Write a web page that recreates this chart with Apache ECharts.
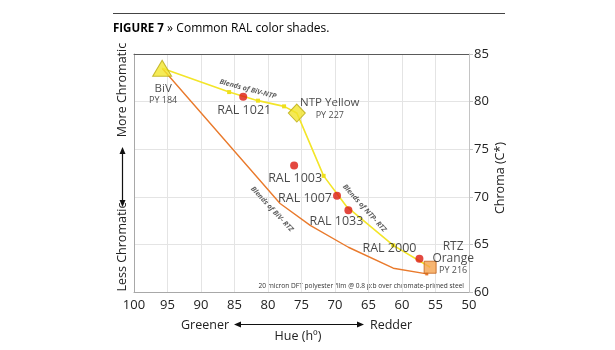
<!DOCTYPE html>
<html>
<head>
<meta charset="utf-8">
<script src="https://cdn.jsdelivr.net/npm/echarts@6/dist/echarts.min.js"></script>
<style>
  html, body { margin: 0; padding: 0; background: #fff; }
  #chart { width: 615px; height: 350px; }
</style>
</head>
<body>
<div id="chart"></div>
<script>
// Hue (h°) and chroma (C*) of pigments, blends and RAL shades
const xTicks = [100, 95, 90, 85, 80, 75, 70, 65, 60, 55, 50];
const yTicks = [60, 65, 70, 75, 80, 85];

// Blend curve BiV -> NTP -> RTZ  [hue, chroma, hasMarker]
const ntpBlendPath = [
  [95.8, 83.5, 0], [85.8, 81.0, 1], [81.5, 80.1, 1], [77.6, 79.5, 1],
  [75.7, 78.8, 0], [75.2, 78.0, 0], [71.7, 72.2, 1], [68.3, 69.0, 0],
  [61.3, 64.9, 1], [55.8, 62.6, 0]
];
// Blend curve BiV -> RTZ
const rtzBlendPath = [
  [95.8, 83.5], [78.2, 69.3], [73.7, 67.0], [68.0, 64.7], [61.3, 62.5], [56.3, 61.9]
];

// Base pigments
const bivPigment = [95.8, 83.5];
const ntpPigment = [75.7, 78.8];
const rtzPigment = [55.8, 62.6];

// RAL shades
const ralNames = ['RAL 1021', 'RAL 1003', 'RAL 1007', 'RAL 1033', 'RAL 2000'];
const ralHue = [83.7, 76.1, 69.7, 68.0, 57.4];
const ralChroma = [80.5, 73.3, 70.1, 68.6, 63.5];

// Blend captions along the curves
const blendCaptions = ['Blends of BiV-NTP', 'Blends of BiV- RTZ', 'Blends of NTP- RTZ'];
const captionHue = [83.0, 79.4, 65.6];
const captionChroma = [81.3, 68.7, 68.8];
const captionAngle = [-15, -47, -48];

const FONT = '"Open Sans", "Noto Sans", sans-serif';
const chart = echarts.init(document.getElementById('chart'), null, { renderer: 'canvas' });

const ralLabelLayout = [
  { position: 'bottom', distance: 3, offset: [1, 0] },
  { position: 'bottom', distance: 3, offset: [1, 0] },
  { position: 'left', distance: 1, offset: [0, 3] },
  { position: 'bottom', distance: 1, offset: [-12, 0] },
  { position: 'left', distance: 0, offset: [1, -10] }
];

const option = {
  animation: false,
  textStyle: { fontFamily: FONT },
  grid: { left: 134, right: 146, top: 54, bottom: 58 },
  xAxis: [{
    type: 'value', inverse: true, min: 50, max: 100, interval: 5,
    position: 'bottom',
    axisLine: { show: true, lineStyle: { color: '#a8a8a8', width: 1 } },
    axisTick: { show: false },
    axisLabel: { color: '#222', fontSize: 13, margin: 7, fontFamily: FONT,
      formatter: v => xTicks.includes(v) ? String(v) : '' },
    splitLine: { show: true, lineStyle: { color: '#e4e4e4', width: 1 } }
  }, {
    type: 'value', inverse: true, min: 50, max: 100, interval: 5,
    position: 'top',
    axisLine: { show: true, lineStyle: { color: '#5a5a5a', width: 1 } },
    axisTick: { show: false }, axisLabel: { show: false }, splitLine: { show: false }
  }],
  yAxis: [{
    type: 'value', min: 60, max: 85, interval: 5, position: 'right',
    axisLine: { show: true, lineStyle: { color: '#c4c4c4', width: 1 } },
    axisTick: { show: true, length: 4, lineStyle: { color: '#c4c4c4' } },
    axisLabel: { color: '#222', fontSize: 13, margin: 5, fontFamily: FONT,
      formatter: v => yTicks.includes(v) ? String(v) : '' },
    splitLine: { show: true, lineStyle: { color: '#e4e4e4', width: 1 } }
  }, {
    type: 'value', min: 60, max: 85, interval: 5, position: 'left',
    axisLine: { show: true, lineStyle: { color: '#a8a8a8', width: 1 } },
    axisTick: { show: false }, axisLabel: { show: false }, splitLine: { show: false }
  }],
  series: [
    {
      name: 'BiV-RTZ blends', type: 'line', xAxisIndex: 0, yAxisIndex: 0,
      data: rtzBlendPath.map((p, i) => ({
        value: p,
        symbol: i === rtzBlendPath.length - 1 ? 'rect' : 'none',
        symbolSize: 3
      })),
      lineStyle: { color: '#e97a2c', width: 1.4 },
      itemStyle: { color: '#e97a2c' }, z: 2
    },
    {
      name: 'BiV-NTP-RTZ blends', type: 'line', xAxisIndex: 0, yAxisIndex: 0,
      data: ntpBlendPath.map(p => ({
        value: [p[0], p[1]],
        symbol: p[2] ? 'rect' : 'none',
        symbolSize: 4
      })),
      lineStyle: { color: '#f3e529', width: 1.6 },
      itemStyle: { color: '#efe01c' }, z: 3
    },
    {
      name: 'Blend captions', type: 'scatter', xAxisIndex: 0, yAxisIndex: 0,
      symbolSize: 0, silent: true, z: 4,
      data: blendCaptions.map((t, i) => ({
        value: [captionHue[i], captionChroma[i]],
        label: { show: true, position: 'inside', formatter: t, rotate: captionAngle[i],
          fontSize: 7, fontStyle: 'italic', fontWeight: 'bold', color: '#333', fontFamily: FONT }
      }))
    },
    {
      name: 'RAL', type: 'scatter', xAxisIndex: 0, yAxisIndex: 0,
      symbol: 'circle', symbolSize: 8, z: 5,
      itemStyle: { color: '#dc1a10' },
      data: ralNames.map((n, i) => ({
        value: [ralHue[i], ralChroma[i]],
        label: Object.assign({ show: true, formatter: n, fontSize: 12.5, color: '#1a1a1a',
          fontFamily: FONT }, ralLabelLayout[i])
      }))
    },
    {
      name: 'BiV', type: 'scatter', xAxisIndex: 0, yAxisIndex: 0,
      symbol: 'triangle', symbolSize: [19, 16], z: 6,
      itemStyle: { color: '#f2e62c', borderColor: '#b9aa10', borderWidth: 1 },
      data: [{ value: bivPigment }],
      label: { show: true, position: 'inside', offset: [1, 26],
        formatter: '{a|BiV}\n{b|PY 184}', align: 'center', color: '#222',
        rich: { a: { fontSize: 11.5, lineHeight: 13, fontFamily: FONT, color: '#222' },
                b: { fontSize: 9, lineHeight: 11, fontFamily: FONT, color: '#222' } } }
    },
    {
      name: 'NTP Yellow', type: 'scatter', xAxisIndex: 0, yAxisIndex: 0,
      symbol: 'diamond', symbolSize: [17, 18], z: 6,
      itemStyle: { color: '#f1e42a', borderColor: '#b9aa10', borderWidth: 1 },
      data: [{ value: ntpPigment }],
      label: { show: true, position: 'inside', offset: [33, -4],
        formatter: '{a|NTP Yellow}\n{b|PY 227}', align: 'center',
        rich: { a: { fontSize: 11.5, lineHeight: 13, fontFamily: FONT, color: '#222' },
                b: { fontSize: 9, lineHeight: 12, fontFamily: FONT, color: '#222' } } }
    },
    {
      name: 'RTZ Orange', type: 'scatter', xAxisIndex: 0, yAxisIndex: 0,
      symbol: 'rect', symbolSize: 12, z: 6,
      itemStyle: { color: '#f5a24e', borderColor: '#c4631c', borderWidth: 1 },
      data: [{ value: rtzPigment }],
      label: { show: true, position: 'inside', offset: [23, -9],
        formatter: '{a|RTZ}\n{a|Orange}\n{b|PY 216}', align: 'center',
        rich: { a: { fontSize: 12, lineHeight: 12.5, fontFamily: FONT, color: '#222' },
                b: { fontSize: 9, lineHeight: 11.5, fontFamily: FONT, color: '#222' } } }
    }
  ],
  graphic: [
    { type: 'line', shape: { x1: 113, y1: 13.5, x2: 505, y2: 13.5 },
      style: { stroke: '#444', lineWidth: 1.2 } },
    { type: 'text', x: 113, y: 29,
      style: { text: '{b|FIGURE 7} {g|»} {n|Common RAL color shades.}', verticalAlign: 'middle',
        rich: { b: { fontSize: 11.5, fontWeight: 'bold', color: '#2a2a2a', fontFamily: FONT },
                g: { fontSize: 12, color: '#8a8a8a', fontFamily: FONT },
                n: { fontSize: 12, color: '#555', fontFamily: FONT } } } },
    { type: 'text', x: 464, y: 286,
      style: { text: '20 micron DFT polyester film @ 0.8 p:b over chromate-primed steel',
        fontSize: 6.6, fill: '#333', fontFamily: FONT, align: 'right', verticalAlign: 'middle' } },
    // horizontal axis titles
    { type: 'text', x: 205, y: 325,
      style: { text: 'Greener', fontSize: 12.5, fill: '#222', fontFamily: FONT, align: 'center', verticalAlign: 'middle' } },
    { type: 'text', x: 391, y: 325,
      style: { text: 'Redder', fontSize: 12.5, fill: '#222', fontFamily: FONT, align: 'center', verticalAlign: 'middle' } },
    { type: 'text', x: 298, y: 336,
      style: { text: 'Hue (hº)', fontSize: 12.5, fill: '#222', fontFamily: FONT, align: 'center', verticalAlign: 'middle' } },
    { type: 'line', shape: { x1: 238, y1: 324.5, x2: 360, y2: 324.5 }, style: { stroke: '#111', lineWidth: 1.2 } },
    { type: 'polygon', shape: { points: [[234, 324.5], [241, 321.5], [241, 327.5]] }, style: { fill: '#111' } },
    { type: 'polygon', shape: { points: [[364, 324.5], [357, 321.5], [357, 327.5]] }, style: { fill: '#111' } },
    // vertical axis titles
    { type: 'text', x: 122, y: 90, rotation: Math.PI / 2,
      style: { text: 'More Chromatic', fontSize: 12.5, fill: '#222', fontFamily: FONT, align: 'center', verticalAlign: 'middle' } },
    { type: 'text', x: 122, y: 247, rotation: Math.PI / 2,
      style: { text: 'Less Chromatic', fontSize: 12.5, fill: '#222', fontFamily: FONT, align: 'center', verticalAlign: 'middle' } },
    { type: 'line', shape: { x1: 122.5, y1: 151, x2: 122.5, y2: 203 }, style: { stroke: '#111', lineWidth: 1.2 } },
    { type: 'polygon', shape: { points: [[122.5, 147], [119.5, 154], [125.5, 154]] }, style: { fill: '#111' } },
    { type: 'polygon', shape: { points: [[122.5, 207], [119.5, 200], [125.5, 200]] }, style: { fill: '#111' } },
    { type: 'text', x: 500, y: 178, rotation: Math.PI / 2,
      style: { text: 'Chroma (C*)', fontSize: 12.5, fill: '#222', fontFamily: FONT, align: 'center', verticalAlign: 'middle' } }
  ]
};
chart.setOption(option);
</script>
</body>
</html>
